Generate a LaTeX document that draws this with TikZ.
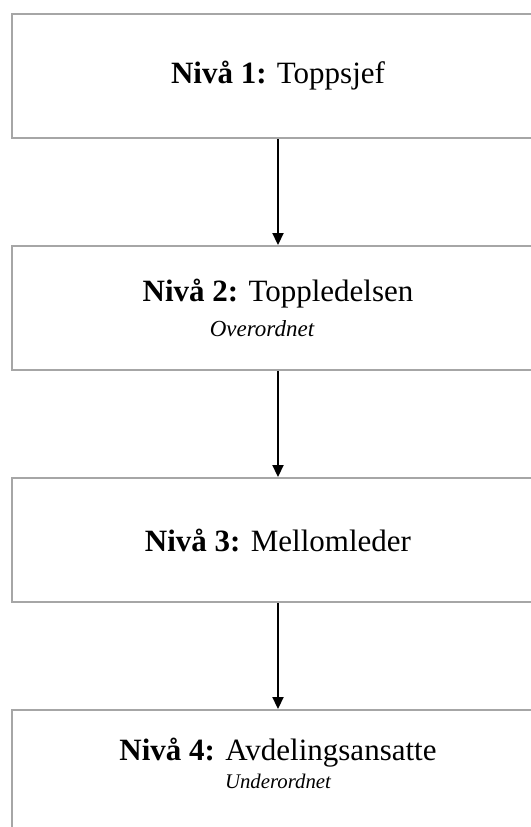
\documentclass[tikz,border=0pt]{standalone}
\usepackage{fontspec}
\setmainfont{Liberation Serif}
\usetikzlibrary{arrows.meta, positioning}

\begin{document}
\begin{tikzpicture} [
	level/.style={draw=black!35, line width=1pt, minimum width=266pt,
		minimum height=62pt, align=center, font=\fontsize{15.5}{17.5}\selectfont},
	link/.style={-{Triangle[length=6pt, width=5.5pt]}, line width=1.1pt},
	node distance=53pt]
	\useasboundingbox (0,0) rectangle (265.5pt,-413.5pt);
	
	\node (niva1) [level, anchor=north west] at (5.5pt,-6.5pt) {\textbf{Nivå 1:} Toppsjef};
	\node (niva2) [level, below=of niva1] {\textbf{Nivå 2:} Toppledelsen\\
		{\fontsize{11.5}{14}\selectfont\itshape Overordnet}\hspace*{16pt}};
	\node (niva3) [level, below=of niva2] {\textbf{Nivå 3:} Mellomleder};
	\node (niva4) [level, below=of niva3, text depth=9pt] {\textbf{Nivå 4:} Avdelingsansatte\\[-3.5pt]
		{\fontsize{10.4}{12}\selectfont\itshape Underordnet}};
	
	\draw[link] (niva1) -- (niva2);
	\draw[link] (niva2) -- (niva3);
	\draw[link] (niva3) -- (niva4);
	
\end{tikzpicture}
\end{document}
